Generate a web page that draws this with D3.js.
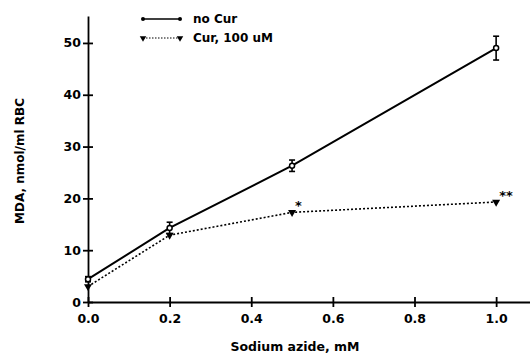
<!DOCTYPE html>
<html>
<head>
<meta charset="utf-8">
<script src="https://cdn.jsdelivr.net/npm/d3@7"></script>
<style>
  body { margin: 0; background: #fff; }
  svg { display: block; font-family: "DejaVu Sans", sans-serif; }
</style>
</head>
<body>
<div id="chart"></div>
<script>
// azide concentration (mM)
const doses = [0.0, 0.2, 0.5, 1.0];
// MDA, nmol/ml RBC
const noCur = [4.4, 14.3, 26.3, 49.0];
const noCurErr = [0.5, 1.1, 1.1, 2.3];
const cur = [3.0, 12.9, 17.3, 19.3];
const curSig = ["", "", "*", "**"];
const xTicks = [0, 0.2, 0.4, 0.6, 0.8, 1.0];
const yTicks = [0, 10, 20, 30, 40, 50];
const seriesNames = ["no Cur", "Cur, 100 uM"];

const width = 530, height = 355;
const margin = {top: 16, right: 0, bottom: 53, left: 88};

const svg = d3.select("#chart").append("svg")
  .attr("width", width)
  .attr("height", height);

let x = d3.scaleLinear()
  .domain([0, 1.083])
  .range([margin.left, width - margin.right]);

let y = d3.scaleLinear()
  .domain([0, 55.2])
  .range([height - margin.bottom, margin.top]);

// axes with cross ticks
let xAxis = g => g
  .attr("transform", `translate(0, ${y(0)})`)
  .call(d3.axisBottom(x).tickValues(xTicks).tickFormat(d3.format(".1f")).tickSize(5).tickSizeOuter(0))
  .call(g => g.selectAll(".tick line").attr("y1", -5))
  .call(g => g.selectAll(".tick text").attr("dy", "1.0em"));

let yAxis = g => g
  .attr("transform", `translate(${x(0)}, 0)`)
  .call(d3.axisLeft(y).tickValues(yTicks).tickSize(5).tickSizeOuter(0))
  .call(g => g.selectAll(".tick line").attr("x1", 5))
  .call(g => g.selectAll(".tick text").attr("x", -7));

svg.append("g").call(xAxis);
svg.append("g").call(yAxis);

svg.selectAll(".domain, .tick line")
  .attr("stroke", "#000")
  .attr("stroke-width", 1.8);

svg.selectAll(".tick text")
  .attr("fill", "#000")
  .style("font-family", "DejaVu Sans, sans-serif")
  .style("font-size", "12.5px")
  .style("font-weight", "bold");

// axis titles
svg.append("text")
  .attr("x", 295)
  .attr("y", 351)
  .attr("text-anchor", "middle")
  .style("font-size", "12.5px")
  .style("font-weight", "bold")
  .text("Sodium azide, mM");

svg.append("text")
  .attr("transform", "translate(24, 161) rotate(-90)")
  .attr("text-anchor", "middle")
  .style("font-size", "12px")
  .style("font-weight", "bold")
  .text("MDA, nmol/ml RBC");

const line = d3.line()
  .x((d, i) => x(doses[i]))
  .y(d => y(d));

// Cur series (dotted)
svg.append("path")
  .datum(cur)
  .attr("fill", "none")
  .attr("stroke", "#000")
  .attr("stroke-width", 1.6)
  .attr("stroke-dasharray", "2,2")
  .attr("d", line);

const tri = d3.symbol().type(d3.symbolTriangle).size(28);

svg.append("g")
  .selectAll("path")
  .data(cur)
  .join("path")
  .attr("d", tri)
  .attr("transform", (d, i) => `translate(${x(doses[i])}, ${y(d)}) rotate(180)`)
  .attr("fill", "#000");

svg.append("g")
  .style("font-size", "13px")
  .style("font-weight", "bold")
  .selectAll("text")
  .data(cur)
  .join("text")
  .attr("x", (d, i) => x(doses[i]) + 3)
  .attr("y", d => y(d) - 2)
  .text((d, i) => curSig[i]);

// no Cur series (solid with error bars)
svg.append("path")
  .datum(noCur)
  .attr("fill", "none")
  .attr("stroke", "#000")
  .attr("stroke-width", 2)
  .attr("d", line);

const err = svg.append("g")
  .attr("stroke", "#000")
  .attr("stroke-width", 1.6)
  .selectAll("g")
  .data(noCur)
  .join("g");

err.append("line")
  .attr("x1", (d, i) => x(doses[i]))
  .attr("x2", (d, i) => x(doses[i]))
  .attr("y1", (d, i) => y(d + noCurErr[i]))
  .attr("y2", (d, i) => y(d - noCurErr[i]));

err.append("line")
  .attr("x1", (d, i) => x(doses[i]) - 3)
  .attr("x2", (d, i) => x(doses[i]) + 3)
  .attr("y1", (d, i) => y(d + noCurErr[i]))
  .attr("y2", (d, i) => y(d + noCurErr[i]));

err.append("line")
  .attr("x1", (d, i) => x(doses[i]) - 3)
  .attr("x2", (d, i) => x(doses[i]) + 3)
  .attr("y1", (d, i) => y(d - noCurErr[i]))
  .attr("y2", (d, i) => y(d - noCurErr[i]));

svg.append("g")
  .selectAll("circle")
  .data(noCur)
  .join("circle")
  .attr("cx", (d, i) => x(doses[i]))
  .attr("cy", d => y(d))
  .attr("r", 2.5)
  .attr("fill", "#fff")
  .attr("stroke", "#000")
  .attr("stroke-width", 1.5);

// legend
const legend = svg.append("g")
  .selectAll("g")
  .data(seriesNames)
  .join("g")
  .attr("transform", (d, i) => `translate(143, ${19 + i * 19})`);

legend.append("line")
  .attr("x1", 0)
  .attr("x2", 37)
  .attr("stroke", "#000")
  .attr("stroke-width", (d, i) => i === 0 ? 1.6 : 1.2)
  .attr("stroke-dasharray", (d, i) => i === 0 ? null : "1.5,1.5");

legend.each(function(d, i) {
  const g = d3.select(this);
  [0, 37].forEach(cx => {
    if (i === 0) {
      g.append("circle").attr("cx", cx).attr("r", 2).attr("fill", "#000");
    } else {
      g.append("path").attr("d", d3.symbol().type(d3.symbolTriangle).size(18))
        .attr("transform", `translate(${cx}, 0) rotate(180)`).attr("fill", "#000");
    }
  });
});

legend.append("text")
  .attr("x", 50)
  .attr("dy", "0.35em")
  .style("font-size", "12px")
  .style("font-weight", "bold")
  .text(d => d);
</script>
</body>
</html>
